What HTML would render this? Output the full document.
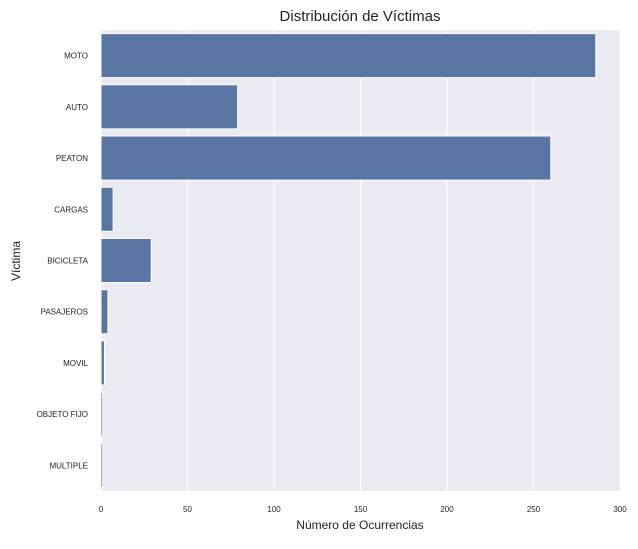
<!DOCTYPE html>
<html><head><meta charset="utf-8"><style>
body{margin:0;background:#fff;font-family:"Liberation Sans",sans-serif}
</style></head><body>
<svg id="chart" width="638" height="544" xmlns="http://www.w3.org/2000/svg">
<rect x="101" y="30" width="519" height="461" fill="#eaeaf2"/>
<g id="grid"></g><g id="bars"></g><g id="labels"></g>
<text x="360" y="21" text-anchor="middle" font-size="15" fill="#222">Distribución de Víctimas</text>
<text x="360" y="529" text-anchor="middle" font-size="12" fill="#222">Número de Ocurrencias</text>
<text x="20" y="261" text-anchor="middle" font-size="12" fill="#222" transform="rotate(-90 20 261)">Víctima</text>
</svg>
<script>
const categories=["MOTO","AUTO","PEATON","CARGAS","BICICLETA","PASAJEROS","MOVIL","OBJETO FIJO","MULTIPLE"];
const values=[286,79,260,7,29,4,2,1,1];
const xTicks=[0,50,100,150,200,250,300];
const NS="http://www.w3.org/2000/svg";
const x0=101,x1=620,y0=30,y1=491;
const xs=v=>x0+(v/300)*(x1-x0);
const band=(y1-y0)/categories.length;
function mk(tag,attrs,parent){const e=document.createElementNS(NS,tag);for(const k in attrs)e.setAttribute(k,attrs[k]);document.getElementById(parent).appendChild(e);return e;}
xTicks.forEach(t=>{
 const l=mk('line',{x1:xs(t),x2:xs(t),y1:y0,y2:y1,stroke:'#fff','stroke-width':1.2},'grid');
 
 
 const tx=mk('text',{x:xs(t),y:512,'text-anchor':'middle','font-size':8,fill:'#222'},'labels');
 tx.textContent=t;
 
 
});
categories.forEach((c,i)=>{
 const yc=y0+band*(i+0.5);
 const r=mk('rect',{x:x0,y:yc-band*0.43,width:xs(values[i])-x0,height:band*0.86,fill:'#5875a4',stroke:'#fff','stroke-width':1},'bars');
 
 
 const tx=mk('text',{x:88,y:yc+3,'text-anchor':'end','font-size':8,fill:'#222'},'labels');
 tx.textContent=c;
 
 
});
</script>
</body></html>
